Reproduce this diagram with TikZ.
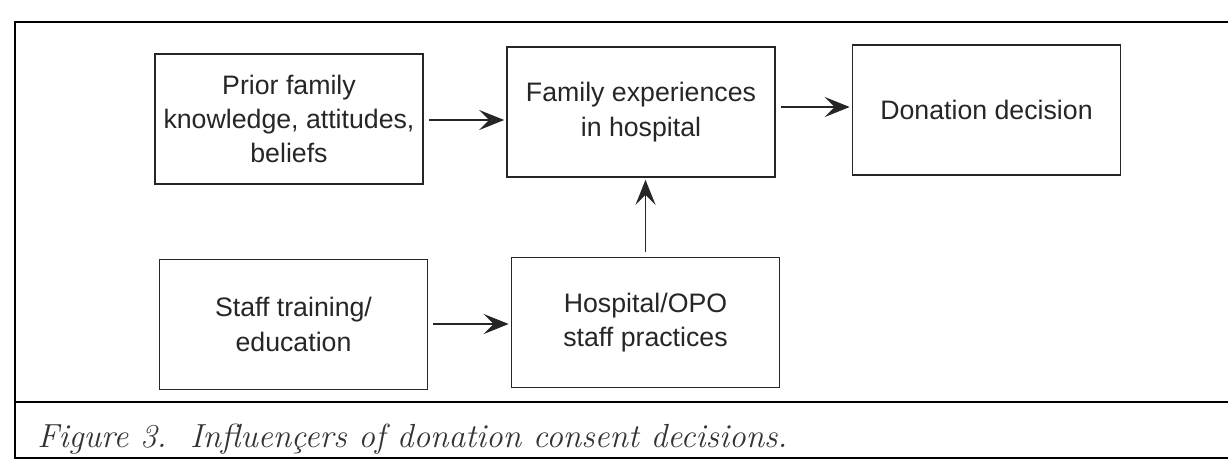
\documentclass[tikz,border=0pt]{standalone}
\usepackage{fontspec}
\usepackage{tikz}
\usetikzlibrary{arrows.meta,positioning}
\newfontfamily\boxfont{Liberation Sans}
\tikzset{
  box/.style={draw, line width=0.9pt, draw=black!85, align=center, minimum width=5.36cm, minimum height=2.6cm,
              font=\boxfont\fontsize{15.2}{19.6}\selectfont, text=black!85, inner sep=4pt},
  arr/.style={-{Stealth[length=5mm, width=4mm, inset=2mm]}, line width=0.9pt, draw=black!85,
              shorten <=0.1cm, shorten >=0.04cm},
  frame/.style={line width=1.3pt},
  captext/.style={font=\fontsize{19}{22}\selectfont\itshape, text=black!80, anchor=west, inner sep=0pt},
}
\begin{document}
\begin{tikzpicture}
  \useasboundingbox (0,0) rectangle (24.56,-9.26);
  % outer frame and caption strip
  \coordinate (tl) at (0.30,-0.44);
  \coordinate (tr) at (24.9,-0.44);
  \coordinate (ml) at (0.30,-8.04);
  \coordinate (mr) at (24.9,-8.04);
  \coordinate (bl) at (0.30,-9.16);
  \coordinate (br) at (24.9,-9.16);
  \draw[frame] (tr) -- (tl) -- (bl) -- (br);
  \draw[frame] (ml) -- (mr);
  \node[captext] (cap) at (0.74,-8.78) {Figure 3.\ \ Influençers of donation consent decisions.};
  % boxes
  \node[box] (prior) at (5.78,-2.38) {Prior family\\knowledge, attitudes,\\beliefs};
  \node[box] (famexp) at (12.82,-2.24) {Family experiences\\in hospital};
  \node[box] (donation) at (19.73,-2.20) {Donation decision};
  \node[box] (training) at (5.87,-6.49) {Staff training/\\education};
  \node[box] (practices) at (12.91,-6.45) {Hospital/OPO\\staff practices};
  % connectors
  \draw[arr] (prior.east |- 0,-2.40) -- (famexp.west |- 0,-2.40);
  \draw[arr] (famexp.east |- 0,-2.14) -- (donation.west |- 0,-2.14);
  \draw[arr] (training.east |- 0,-6.48) -- (practices.west |- 0,-6.48);
  \draw[arr] (practices.north) -- (famexp.south -| practices.north);
\end{tikzpicture}
\end{document}
